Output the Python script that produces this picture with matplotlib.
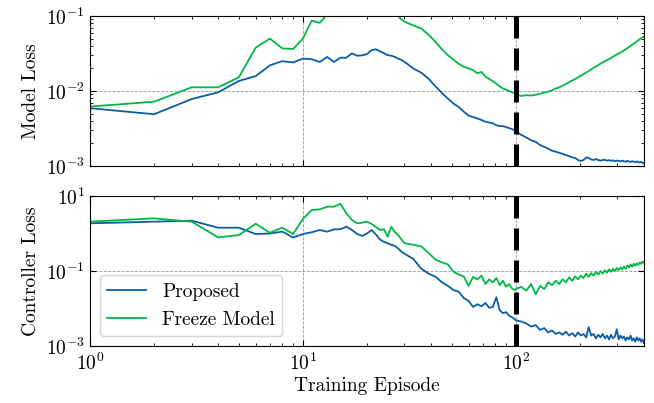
import matplotlib
matplotlib.use("Agg")
import matplotlib.pyplot as plt
from matplotlib.ticker import LogLocator, NullLocator, NullFormatter

# Style close to SciencePlots "science" look
plt.rcParams.update({
    "font.family": "serif",
    "font.serif": ["cmr10", "DejaVu Serif"],
    "mathtext.fontset": "cm",
    "axes.formatter.use_mathtext": True,
    "axes.unicode_minus": False,
    "xtick.direction": "in",
    "ytick.direction": "in",
    "xtick.top": True,
    "ytick.right": True,
    "xtick.major.size": 4,
    "ytick.major.size": 4,
    "xtick.minor.size": 2,
    "ytick.minor.size": 2,
    "xtick.minor.visible": True,
    "axes.linewidth": 0.8,
})

BLUE = "#0C5DA5"
GREEN = "#00B945"

# Data
episodes = list(range(1, 31)) + list(range(33, 100, 3)) + list(range(100, 401, 6))

model_loss_proposed = [
    0.0059, 0.0049, 0.0078, 0.0096, 0.0136, 0.0158, 0.022, 0.025, 0.024, 0.027,
    0.0265, 0.0244, 0.0284, 0.0244, 0.0278, 0.0278, 0.0318, 0.0295, 0.0299, 0.031,
    0.035, 0.036, 0.034, 0.032, 0.030, 0.0296, 0.0285, 0.027, 0.026, 0.0245,
    0.020, 0.0175, 0.0145, 0.0115, 0.0094, 0.0079, 0.0068, 0.0061, 0.0053, 0.0047,
    0.0045, 0.0043, 0.0041, 0.0039, 0.0038, 0.0037, 0.0035, 0.0034, 0.0034, 0.0033,
    0.0032, 0.0031, 0.0030,
    0.0029, 0.0026, 0.0024, 0.0022, 0.0021, 0.0019, 0.0018, 0.0017, 0.0016, 0.00155,
    0.0015, 0.00145, 0.0014, 0.00135, 0.0013, 0.00128, 0.0012, 0.00117, 0.0012, 0.0013,
    0.00128, 0.00122, 0.0012, 0.00124, 0.0012, 0.00118, 0.0012, 0.00121, 0.00118, 0.0012,
    0.00117, 0.00119, 0.00116, 0.00118, 0.00117, 0.00115, 0.00118, 0.00116, 0.00114, 0.00117,
    0.00115, 0.00113, 0.00116, 0.00114, 0.00112, 0.00115, 0.00113, 0.00111, 0.00114, 0.0011,
    0.00108,
]

model_loss_freeze = [
    0.0062, 0.0072, 0.0112, 0.0112, 0.0152, 0.0378, 0.050, 0.037, 0.0363, 0.050,
    0.087, 0.081, 0.105, 0.13, 0.16, 0.18, 0.19, 0.20, 0.21, 0.20,
    0.19, 0.20, 0.18, 0.16, 0.15, 0.13, 0.115, 0.10, 0.09, 0.084,
    0.075, 0.068, 0.056, 0.045, 0.036, 0.030, 0.026, 0.023, 0.021, 0.020,
    0.019, 0.0172, 0.018, 0.0155, 0.0145, 0.0135, 0.0125, 0.0115, 0.0108, 0.0104,
    0.0100, 0.0096, 0.0094,
    0.0090, 0.0086, 0.0088, 0.0087, 0.0089, 0.0092, 0.0095, 0.0098, 0.0102, 0.0108,
    0.0112, 0.0118, 0.0124, 0.0131, 0.0138, 0.0144, 0.0152, 0.0160, 0.0168, 0.0176,
    0.0185, 0.0194, 0.0205, 0.0212, 0.0222, 0.0232, 0.0240, 0.0250, 0.0258, 0.0266,
    0.0276, 0.0286, 0.0296, 0.0306, 0.0316, 0.0326, 0.0336, 0.0348, 0.0360, 0.0372,
    0.0386, 0.0400, 0.0414, 0.0428, 0.0442, 0.0458, 0.0474, 0.0490, 0.0506, 0.0520,
    0.0535,
]

ctrl_loss_proposed = [
    1.87, 2.07, 2.2, 1.43, 1.43, 0.97, 1.0, 1.12, 0.78, 0.97,
    1.08, 1.24, 1.12, 1.29, 1.3, 1.52, 1.24, 0.97, 0.86, 1.0,
    1.24, 0.95, 0.7, 0.6, 0.55, 0.5, 0.47, 0.4, 0.33, 0.29,
    0.21, 0.115, 0.085, 0.07, 0.05, 0.04, 0.031, 0.028, 0.019, 0.016,
    0.011, 0.013, 0.0115, 0.014, 0.0105, 0.011, 0.02, 0.009, 0.0075, 0.008,
    0.0065, 0.0058, 0.0052,
    0.0048, 0.0045, 0.0040, 0.0033, 0.0036, 0.0027, 0.0030, 0.0023, 0.0026, 0.0021,
    0.0023, 0.0020, 0.0024, 0.0019, 0.0022, 0.0018, 0.0023, 0.0019, 0.0021, 0.0017,
    0.0032, 0.0019, 0.0021, 0.0016, 0.0020, 0.0017, 0.0021, 0.0016, 0.0019, 0.0015,
    0.0020, 0.0016, 0.0018, 0.0028, 0.0015, 0.0019, 0.0016, 0.0018, 0.0014, 0.0017,
    0.0015, 0.0019, 0.0014, 0.0016, 0.0013, 0.0017, 0.0014, 0.0016, 0.0013, 0.0015,
    0.0012,
]

ctrl_loss_freeze = [
    2.07, 2.54, 2.07, 0.79, 0.91, 1.82, 1.05, 1.43, 0.97, 2.44,
    4.23, 4.4, 5.2, 5.2, 6.2, 3.45, 2.3, 1.87, 1.95, 2.07,
    1.8, 1.5, 1.24, 1.3, 0.82, 1.52, 1.1, 0.91, 0.7, 0.55,
    0.5, 0.45, 0.3, 0.2, 0.17, 0.15, 0.096, 0.08, 0.071, 0.04,
    0.07, 0.06, 0.075, 0.045, 0.06, 0.05, 0.065, 0.042, 0.055, 0.038,
    0.045, 0.034, 0.031,
    0.033, 0.038, 0.030, 0.045, 0.024, 0.040, 0.033, 0.050, 0.042, 0.055,
    0.045, 0.060, 0.050, 0.068, 0.055, 0.072, 0.060, 0.075, 0.065, 0.085,
    0.070, 0.088, 0.075, 0.095, 0.080, 0.100, 0.085, 0.105, 0.090, 0.110,
    0.095, 0.115, 0.100, 0.120, 0.105, 0.125, 0.110, 0.130, 0.115, 0.140,
    0.125, 0.150, 0.130, 0.155, 0.140, 0.160, 0.145, 0.170, 0.155, 0.180,
    0.165,
]

switch_episode = 100

fig = plt.figure(figsize=(6.54, 4.03), dpi=100)
ax1 = fig.add_axes([0.1376, 0.5881, 0.8471, 0.3722])
ax2 = fig.add_axes([0.1376, 0.1414, 0.8471, 0.3722], sharex=ax1)

ax1.plot(episodes, model_loss_proposed, color=BLUE, lw=1.3, label="Proposed")
ax1.plot(episodes, model_loss_freeze, color=GREEN, lw=1.3, label="Freeze Model")
ax2.plot(episodes, ctrl_loss_proposed, color=BLUE, lw=1.3, label="Proposed")
ax2.plot(episodes, ctrl_loss_freeze, color=GREEN, lw=1.3, label="Freeze Model")

for ax in (ax1, ax2):
    ax.set_xscale("log")
    ax.set_yscale("log")
    ax.axvline(switch_episode, color="black", lw=3.6, dashes=(4.4, 2.0))
    ax.grid(True, which="major", color="gray", ls="--", lw=0.6, alpha=0.8)
    ax.tick_params(labelsize=14)
    ax.xaxis.set_minor_locator(LogLocator(base=10, subs=range(2, 10), numticks=20))

ax1.set_xlim(1, 400)
ax1.set_ylim(1e-3, 1e-1)
ax2.set_ylim(1e-3, 1e1)
ax2.set_yticks([1e-3, 1e-1, 1e1])
ax2.yaxis.set_minor_locator(NullLocator())
ax2.yaxis.set_minor_formatter(NullFormatter())
ax1.tick_params(labelbottom=False)
ax2.tick_params(axis="x", pad=5)

ax1.set_ylabel("Model Loss", fontsize=14)
ax2.set_ylabel("Controller Loss", fontsize=14)
ax2.set_xlabel("Training Episode", fontsize=14, labelpad=2)

ax2.legend(loc="lower left", fontsize=14, frameon=True, fancybox=True,
           edgecolor="0.8", framealpha=0.8)

fig.savefig("out.png", dpi=100)
